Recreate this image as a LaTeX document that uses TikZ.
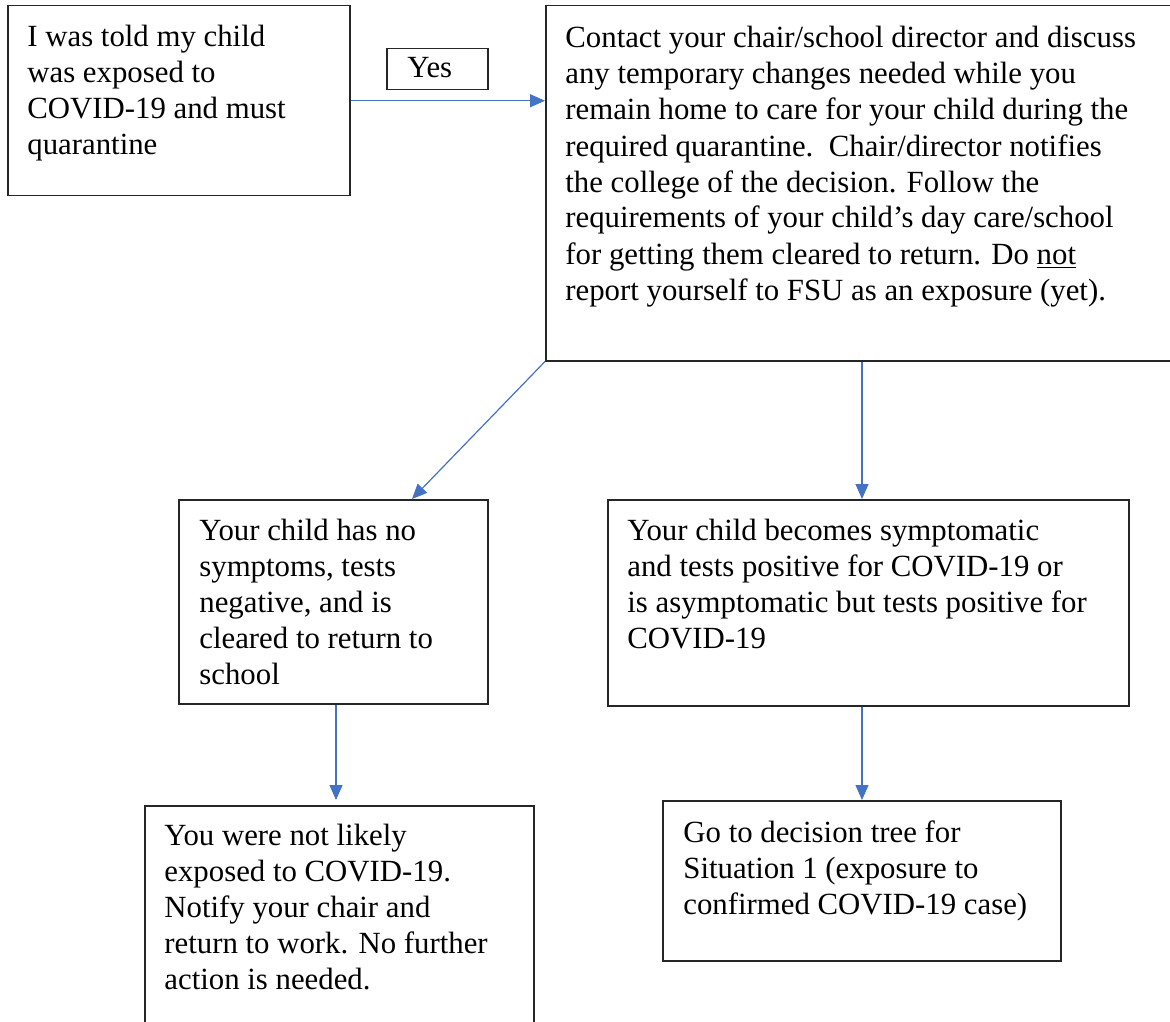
\documentclass[tikz,border=0pt]{standalone}
\usepackage{fontspec}
\setmainfont{Liberation Serif}
\usetikzlibrary{arrows.meta}
\definecolor{wordblue}{HTML}{4472C4}
\begin{document}
\begin{tikzpicture}[x=0.5pt,y=-0.5pt,
  box/.style={draw=black!85, line width=0.75pt, rectangle, inner sep=0pt, anchor=north west},
  txt/.style={align=left, inner sep=0pt, anchor=base west, font=\fontsize{15.4pt}{18pt}\selectfont},
  conn/.style={draw=wordblue, line width=0.6pt, -{Triangle[length=7.5pt,width=6.5pt]}}]
\useasboundingbox[fill=white] (0,0) rectangle (1170,1021);
% boxes
\node[box, minimum width=171pt, minimum height=95pt] (A) at (7,5) {};
\node[box, minimum width=50.5pt, minimum height=20.5pt] (Y) at (386,48) {};
\node[box, minimum width=317.5pt, minimum height=177.5pt] (B) at (545,5) {};
\node[box, minimum width=154.5pt, minimum height=102pt] (C) at (178,499) {};
\node[box, minimum width=260.5pt, minimum height=103pt] (D) at (607,499) {};
\node[box, minimum width=194.5pt, minimum height=112.5pt] (E) at (144,805) {};
\node[box, minimum width=199pt, minimum height=80pt] (F) at (662,800) {};
% texts (anchored at the baseline of their last line)
\node[txt] (tA) at (27,155) {I was told my child\\was exposed to\\COVID-19 and must\\quarantine};
\node[txt] (tY) at (407,78) {Yes};
\node[txt] (tB) at (565,300) {Contact your chair/school director and discuss\\any temporary changes needed while you\\remain home to care for your child during the\\required quarantine.\ \ Chair/director notifies\\the college of the decision. Follow the\\requirements of your child’s day care/school\\for getting them cleared to return. Do \underline{not}\\report yourself to FSU as an exposure (yet).};
\node[txt] (tC) at (199,684) {Your child has no\\symptoms, tests\\negative, and is\\cleared to return to\\school};
\node[txt] (tD) at (627,648) {Your child becomes symptomatic\\and tests positive for COVID-19 or\\is asymptomatic but tests positive for\\COVID-19};
\node[txt] (tE) at (164,989) {You were not likely\\exposed to COVID-19.\\Notify your chair and\\return to work. No further\\action is needed.};
\node[txt] (tF) at (683,914) {Go to decision tree for\\Situation 1 (exposure to\\confirmed COVID-19 case)};
% connectors
\coordinate (bx) at (862,0);
\coordinate (cx) at (336,0);
\draw[conn] (A.east) -- (A.east -| B.west);
\draw[conn] (B.south west) -- ([xshift=117pt]C.north west);
\draw[conn] (bx |- B.south) -- (bx |- D.north);
\draw[conn] (cx |- C.south) -- ([yshift=2.5pt]cx |- E.north);
\draw[conn] (bx |- D.south) -- (bx |- F.north);
\end{tikzpicture}
\end{document}
